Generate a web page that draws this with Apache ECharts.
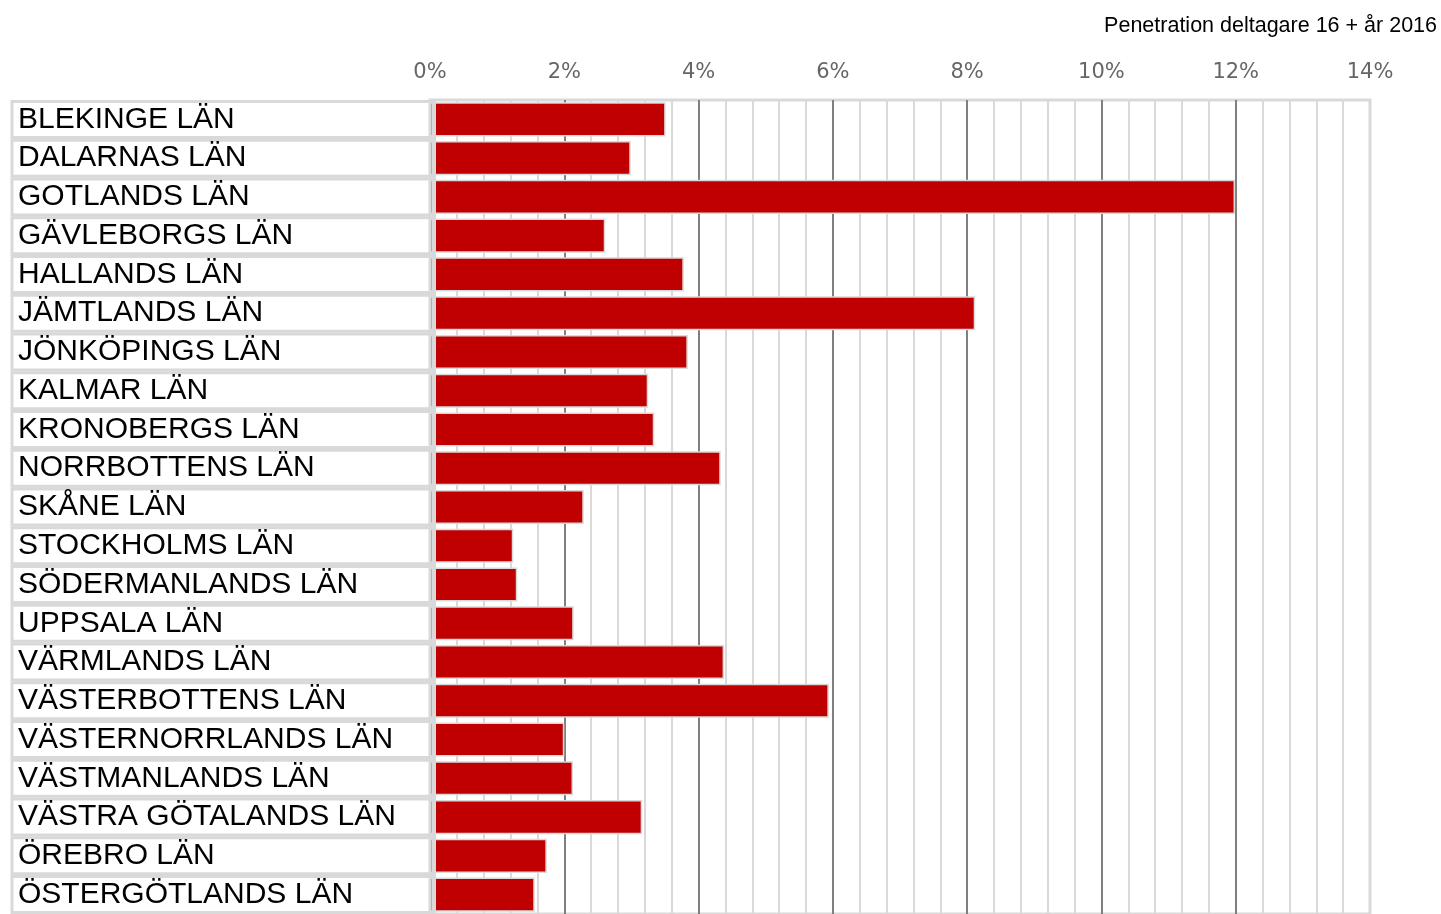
<!DOCTYPE html>
<html><head><meta charset="utf-8">
<script src="https://cdn.jsdelivr.net/npm/echarts@6/dist/echarts.min.js"></script>
<style>html,body{margin:0;padding:0;background:#fff}#c{width:1441px;height:914px}</style>
</head><body><div id="c"></div>
<script>
const title = 'Penetration deltagare 16 + år 2016';
const categories = ['BLEKINGE LÄN','DALARNAS LÄN','GOTLANDS LÄN','GÄVLEBORGS LÄN','HALLANDS LÄN','JÄMTLANDS LÄN','JÖNKÖPINGS LÄN','KALMAR LÄN','KRONOBERGS LÄN','NORRBOTTENS LÄN','SKÅNE LÄN','STOCKHOLMS LÄN','SÖDERMANLANDS LÄN','UPPSALA LÄN','VÄRMLANDS LÄN','VÄSTERBOTTENS LÄN','VÄSTERNORRLANDS LÄN','VÄSTMANLANDS LÄN','VÄSTRA GÖTALANDS LÄN','ÖREBRO LÄN','ÖSTERGÖTLANDS LÄN'];
const values = [3.51,2.99,11.99,2.61,3.78,8.12,3.84,3.25,3.34,4.33,2.29,1.24,1.30,2.14,4.38,5.94,2.00,2.13,3.16,1.74,1.56];
const xMin = 0, xMax = 14, xStep = 2;

const chart = echarts.init(document.getElementById('c'));
chart.setOption({
  animation:false,
  title:{text:title,right:-1,top:10,textStyle:{fontFamily:'Liberation Sans, Arial',fontSize:21.5,fontWeight:'normal',color:'#000'}},
  grid:{left:430,right:71,top:100,height:818,show:true,borderColor:'#d9d9d9',borderWidth:3,backgroundColor:'transparent'},
  xAxis:{type:'value',position:'top',min:xMin,max:xMax,interval:xStep,
    axisLine:{show:false},axisTick:{show:false},
    axisLabel:{formatter:v=>v+'%',color:'#666666',fontSize:21,fontFamily:'DejaVu Sans',margin:17},
    splitLine:{show:true,lineStyle:{color:['#d9d9d9','#7f7f7f','#7f7f7f','#7f7f7f','#7f7f7f','#7f7f7f','#7f7f7f','#d9d9d9'],width:2}},
    minorTick:{show:false,splitNumber:5},
    minorSplitLine:{show:true,lineStyle:{color:'#d9d9d9',width:2}}
  },
  yAxis:{type:'category',data:categories,inverse:true,z:3,offset:-4,
    axisLine:{show:true,lineStyle:{color:'#d9d9d9',width:3}},axisTick:{show:false},
    splitLine:{show:false},
    axisLabel:{interval:0,hideOverlap:false,align:'left',margin:422,color:'#000',fontSize:30,fontFamily:'Liberation Sans, Arial',
      width:415,height:36,lineHeight:36,padding:[0,0,0,6],borderColor:'#d9d9d9',borderWidth:3,verticalAlign:'middle'}
  },
  series:[{type:'bar',data:values,barCategoryGap:'12%',
    itemStyle:{color:'#c00000',borderColor:'#d9d9d9',borderWidth:1.5}}]
});
</script></body></html>
